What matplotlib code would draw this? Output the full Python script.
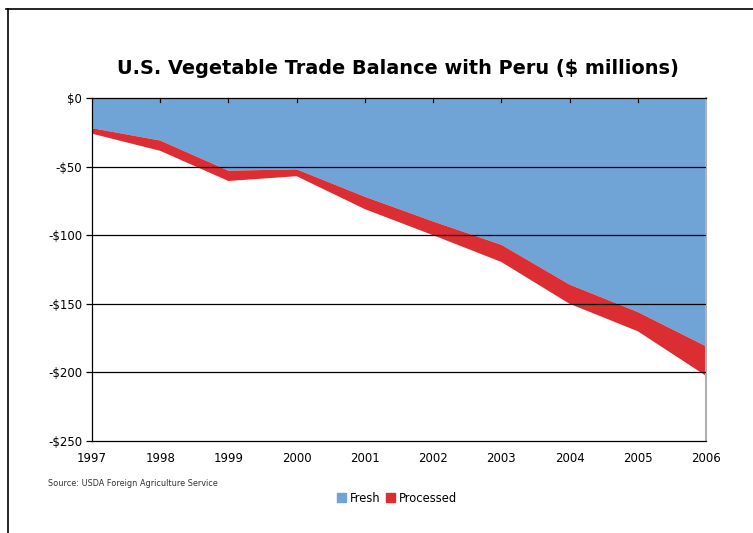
import matplotlib
matplotlib.use('Agg')
import matplotlib.pyplot as plt
from matplotlib.lines import Line2D
from matplotlib.patches import Patch

years = [1997, 1998, 1999, 2000, 2001, 2002, 2003, 2004, 2005, 2006]
fresh = [-22, -31, -53, -52, -72, -90, -107, -136, -156, -181]
processed = [-4, -7.5, -7.5, -5, -9, -10, -12.5, -14, -14, -21.5]
yticks = [0, -50, -100, -150, -200, -250]
ylabels = ['$0', '-$50', '-$100', '-$150', '-$200', '-$250']

blue = '#70A3D6'
red = '#DC2D32'

fig = plt.figure(figsize=(7.53, 5.33), dpi=100)
ax = fig.add_axes([92 / 753, 1 - 441 / 533, 614 / 753, 343 / 533])

ax.stackplot(years, fresh, processed, colors=[blue, red], linewidth=0)

ax.set_xlim(years[0], years[-1])
ax.set_ylim(-250, 0)

for v in yticks[1:-1]:
    ax.axhline(v, color='black', lw=0.9, zorder=3)

ax.set_yticks(yticks)
ax.set_yticklabels(ylabels, fontsize=8.5)
ax.set_xticks(years)
ax.set_xticklabels([str(y) for y in years], fontsize=8.5)
ax.tick_params(axis='y', direction='out', length=4, width=0.9, pad=3)
ax.tick_params(axis='x', direction='in', length=0, pad=8)

# category axis crosses at zero (top), ticks on it
for x in years[1:-1]:
    ax.plot([x, x], [0, -3], color='black', lw=0.9, zorder=4, clip_on=False)

for s in ['left', 'top', 'bottom']:
    ax.spines[s].set_color('black')
    ax.spines[s].set_linewidth(0.9)
ax.spines['right'].set_color('#b0b0b0')
ax.spines['right'].set_linewidth(1.5)

fig.text(397.5 / 753, 1 - 68 / 533, 'U.S. Vegetable Trade Balance with Peru ($ millions)',
         ha='center', va='center', fontsize=13.9, fontweight='bold')
fig.text(48 / 753, 1 - 483 / 533, 'Source: USDA Foreign Agriculture Service',
         ha='left', va='center', fontsize=5.9, color='#333333')

handles = [Patch(color=blue, label='Fresh'), Patch(color=red, label='Processed')]
fig.legend(handles=handles, loc='center', bbox_to_anchor=(397 / 753, 1 - 498 / 533),
           ncol=2, frameon=False, fontsize=8.3, handlelength=0.8, handleheight=0.8,
           handletextpad=0.3, columnspacing=0.5)

# outer chart frame (cut off at right/bottom)
fig.add_artist(Line2D([6 / 753, 1], [1 - 9 / 533, 1 - 9 / 533], color='black', lw=1.2))
fig.add_artist(Line2D([8 / 753, 8 / 753], [0, 1 - 9 / 533], color='black', lw=1.2))

fig.savefig('out.png', dpi=100)
